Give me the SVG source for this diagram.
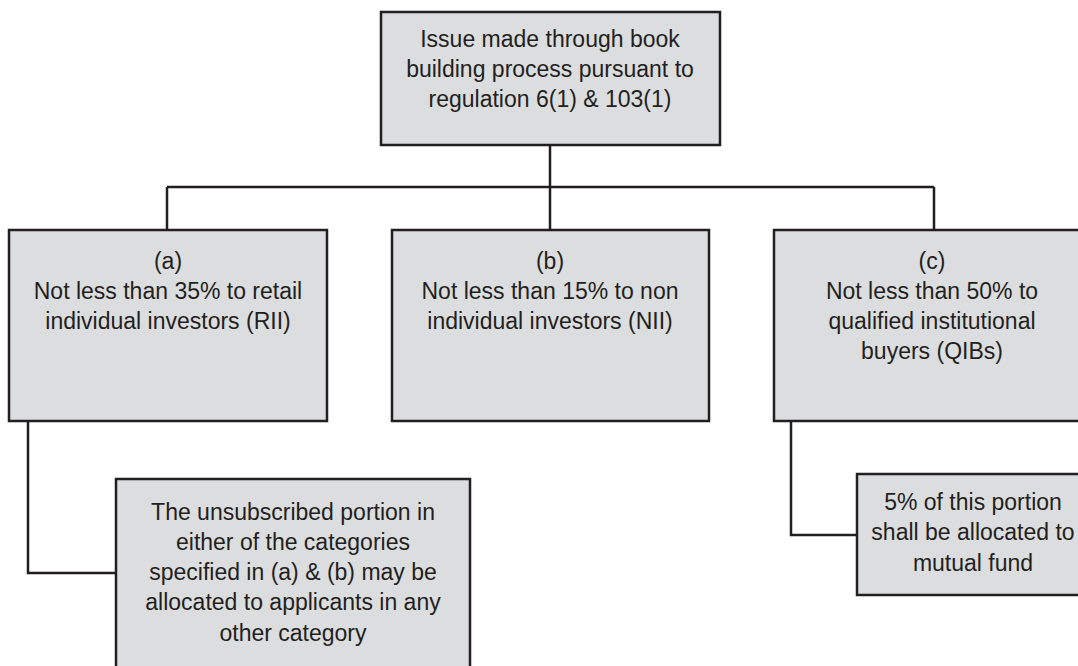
<svg xmlns="http://www.w3.org/2000/svg" width="1078" height="666" viewBox="0 0 1078 666">
  <style>
    .box { fill: #dcdddf; stroke: #231f20; stroke-width: 2.5; }
    .wire { fill: none; stroke: #231f20; stroke-width: 2.5; }
    text { font-family: "Liberation Sans", Arial, sans-serif; font-size: 23px; fill: #231f20; text-anchor: middle; }
  </style>
  <rect width="1078" height="666" fill="#ffffff"/>

  <!-- connectors -->
  <g id="connectors">
    <path class="wire" d="M550 145 V187 M167 187 H934 M167 187 V230 M550 187 V230 M934 187 V230"/>
    <path class="wire" d="M28 421 V573 H116"/>
    <path class="wire" d="M791 421 V535 H857"/>
  </g>

  <g id="node-issue">
    <rect class="box" x="381" y="12" width="339" height="133"/>
    <text x="550" y="47">Issue made through book</text>
    <text x="550" y="77">building process pursuant to</text>
    <text x="550" y="107">regulation 6(1) &amp; 103(1)</text>
  </g>

  <g id="node-rii">
    <rect class="box" x="9" y="230" width="318" height="191"/>
    <text x="168" y="269">(a)</text>
    <text x="168" y="299">Not less than 35% to retail</text>
    <text x="168" y="329">individual investors (RII)</text>
  </g>

  <g id="node-nii">
    <rect class="box" x="392" y="230" width="317" height="191"/>
    <text x="550" y="269">(b)</text>
    <text x="550" y="299">Not less than 15% to non</text>
    <text x="550" y="329">individual investors (NII)</text>
  </g>

  <g id="node-qib">
    <rect class="box" x="774" y="230" width="318" height="191"/>
    <text x="932" y="269">(c)</text>
    <text x="932" y="299">Not less than 50% to</text>
    <text x="932" y="329">qualified institutional</text>
    <text x="932" y="359">buyers (QIBs)</text>
  </g>

  <g id="node-unsubscribed">
    <rect class="box" x="116" y="479" width="354" height="195"/>
    <text x="293" y="520">The unsubscribed portion in</text>
    <text x="293" y="550">either of the categories</text>
    <text x="293" y="580">specified in (a) &amp; (b) may be</text>
    <text x="293" y="610">allocated to applicants in any</text>
    <text x="293" y="641">other category</text>
  </g>

  <g id="node-mutual-fund">
    <rect class="box" x="857" y="474" width="234" height="121"/>
    <text x="973" y="510">5% of this portion</text>
    <text x="973" y="540">shall be allocated to</text>
    <text x="973" y="571">mutual fund</text>
  </g>
</svg>
